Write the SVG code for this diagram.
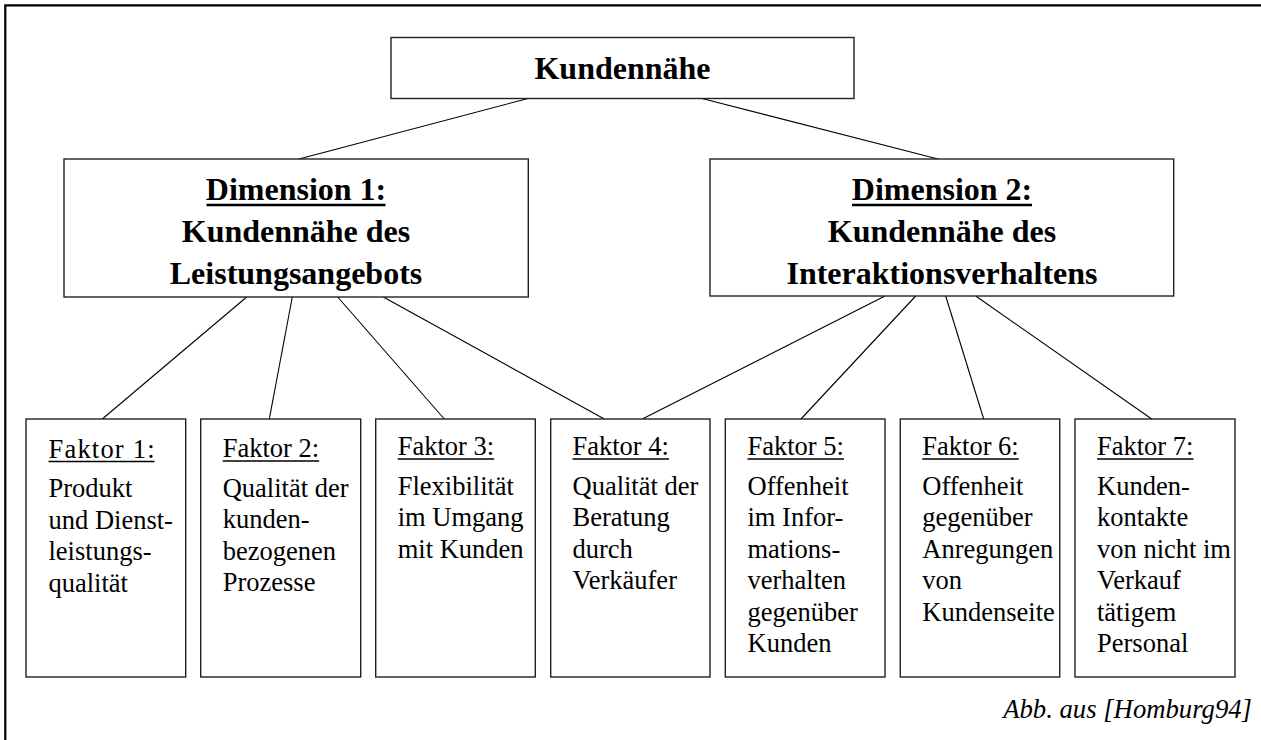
<svg xmlns="http://www.w3.org/2000/svg" width="1261" height="740" viewBox="0 0 1261 740">
<style>
.box{fill:#fff;stroke:#222;stroke-width:1.4}
.bold{font-family:'Liberation Serif','Tinos','Times New Roman','DejaVu Serif',serif;font-weight:bold;font-size:32px;fill:#000}
.reg{font-family:'Liberation Serif','Tinos','Times New Roman','DejaVu Serif',serif;font-size:26.5px;fill:#000}
.cap{font-family:'Liberation Serif','Tinos','Times New Roman','DejaVu Serif',serif;font-style:italic;font-size:26.7px;fill:#000}
.ul{stroke:#000;stroke-width:1.3}
.ulb{stroke:#000;stroke-width:2.5}
.con line{stroke:#000;stroke-width:1.1}
</style>
<rect width="1261" height="740" fill="#fff"/>
<path d="M5.3,740 V5.3 H1261" fill="none" stroke="#000" stroke-width="2.2"/>

<g id="connectors" class="con">
<line x1="528" y1="98.5" x2="299" y2="159"/>
<line x1="702" y1="98.5" x2="938" y2="159"/>
<line x1="246.7" y1="297" x2="102.3" y2="419"/>
<line x1="292.3" y1="297" x2="269.3" y2="419"/>
<line x1="337.7" y1="297" x2="444.3" y2="419"/>
<line x1="383.3" y1="297" x2="604.3" y2="419"/>
<line x1="885" y1="296" x2="642.3" y2="419"/>
<line x1="915.7" y1="296" x2="801" y2="419"/>
<line x1="945.7" y1="296" x2="983.7" y2="419"/>
<line x1="975.7" y1="296" x2="1151.7" y2="419"/>
</g>

<g id="kundennaehe">
<rect class="box" x="391" y="37.5" width="463" height="61"/>
<text class="bold" x="622.5" y="79" text-anchor="middle">Kundennähe</text>
</g>

<g id="dimension1">
<rect class="box" x="64" y="159" width="464.3" height="138"/>
<text class="bold" x="296" y="200" text-anchor="middle">Dimension 1:</text>
<line class="ulb" x1="206.5" y1="205" x2="385.5" y2="205"/>
<text class="bold" x="296" y="242" text-anchor="middle">Kundennähe des</text>
<text class="bold" x="296" y="284" text-anchor="middle">Leistungsangebots</text>
</g>

<g id="dimension2">
<rect class="box" x="710" y="159" width="463.7" height="137"/>
<text class="bold" x="942" y="200" text-anchor="middle">Dimension 2:</text>
<line class="ulb" x1="852" y1="205" x2="1032" y2="205"/>
<text class="bold" x="942" y="242" text-anchor="middle">Kundennähe des</text>
<text class="bold" x="942" y="284" text-anchor="middle">Interaktionsverhaltens</text>
</g>

<g id="faktor1">
<rect class="box" x="26" y="419" width="159.7" height="258"/>
<text class="reg" x="48.5" y="457.5" textLength="106" lengthAdjust="spacing">Faktor 1:</text>
<line class="ul" x1="48.5" y1="461.5" x2="154.5" y2="461.5"/>
<text class="reg"><tspan x="48.5" y="497">Produkt</tspan><tspan x="48.5" y="528.5">und Dienst-</tspan><tspan x="48.5" y="560">leistungs-</tspan><tspan x="48.5" y="591.5">qualität</tspan></text>
</g>

<g id="faktor2">
<rect class="box" x="200.7" y="419" width="160" height="258"/>
<text class="reg" x="222.7" y="457">Faktor 2:</text>
<line class="ul" x1="222.7" y1="461" x2="319.2" y2="461"/>
<text class="reg"><tspan x="222.7" y="496.5">Qualität der</tspan><tspan x="222.7" y="528">kunden-</tspan><tspan x="222.7" y="559.5">bezogenen</tspan><tspan x="222.7" y="591">Prozesse</tspan></text>
</g>

<g id="faktor3">
<rect class="box" x="375.7" y="419" width="159.6" height="258"/>
<text class="reg" x="397.7" y="455">Faktor 3:</text>
<line class="ul" x1="397.7" y1="459" x2="494.2" y2="459"/>
<text class="reg"><tspan x="397.7" y="494.5">Flexibilität</tspan><tspan x="397.7" y="526">im Umgang</tspan><tspan x="397.7" y="557.5">mit Kunden</tspan></text>
</g>

<g id="faktor4">
<rect class="box" x="550.7" y="419" width="159.3" height="258"/>
<text class="reg" x="572.5" y="455">Faktor 4:</text>
<line class="ul" x1="572.5" y1="459" x2="669" y2="459"/>
<text class="reg"><tspan x="572.5" y="494.5">Qualität der</tspan><tspan x="572.5" y="526">Beratung</tspan><tspan x="572.5" y="557.5">durch</tspan><tspan x="572.5" y="589">Verkäufer</tspan></text>
</g>

<g id="faktor5">
<rect class="box" x="725.3" y="419" width="159.7" height="258"/>
<text class="reg" x="747.5" y="455">Faktor 5:</text>
<line class="ul" x1="747.5" y1="459" x2="844" y2="459"/>
<text class="reg"><tspan x="747.5" y="494.5">Offenheit</tspan><tspan x="747.5" y="526">im Infor-</tspan><tspan x="747.5" y="557.5">mations-</tspan><tspan x="747.5" y="589">verhalten</tspan><tspan x="747.5" y="620.5">gegenüber</tspan><tspan x="747.5" y="652">Kunden</tspan></text>
</g>

<g id="faktor6">
<rect class="box" x="900.3" y="419" width="159.4" height="258"/>
<text class="reg" x="922.3" y="455">Faktor 6:</text>
<line class="ul" x1="922.3" y1="459" x2="1018.8" y2="459"/>
<text class="reg"><tspan x="922.3" y="494.5">Offenheit</tspan><tspan x="922.3" y="526">gegenüber</tspan><tspan x="922.3" y="557.5">Anregungen</tspan><tspan x="922.3" y="589">von</tspan><tspan x="922.3" y="620.5">Kundenseite</tspan></text>
</g>

<g id="faktor7">
<rect class="box" x="1075" y="419" width="160" height="258"/>
<text class="reg" x="1097" y="455">Faktor 7:</text>
<line class="ul" x1="1097" y1="459" x2="1193.5" y2="459"/>
<text class="reg"><tspan x="1097" y="494.5">Kunden-</tspan><tspan x="1097" y="526">kontakte</tspan><tspan x="1097" y="557.5">von nicht im</tspan><tspan x="1097" y="589">Verkauf</tspan><tspan x="1097" y="620.5">tätigem</tspan><tspan x="1097" y="652">Personal</tspan></text>
</g>

<g id="caption">
<text class="cap" x="1252" y="718" text-anchor="end">Abb. aus [Homburg94]</text>
</g>
</svg>
